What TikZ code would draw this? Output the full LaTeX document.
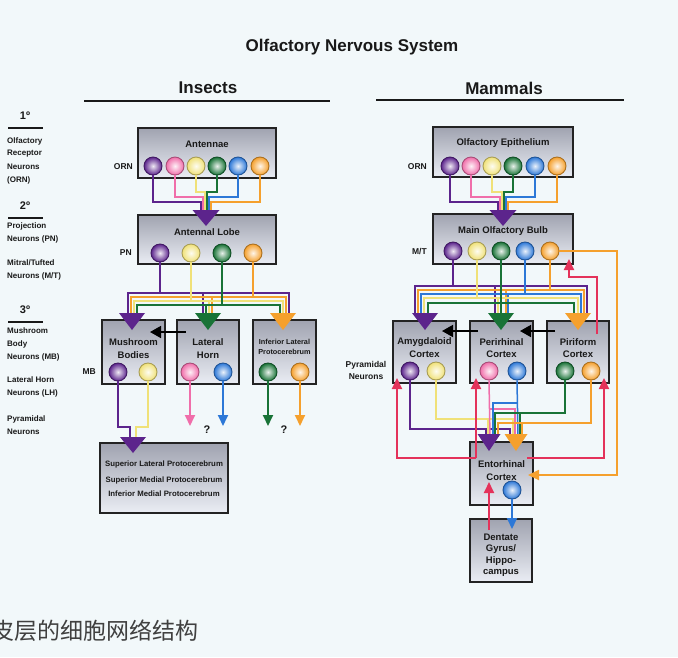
\documentclass[tikz,border=0pt]{standalone}
\usepackage{fontspec}
\setmainfont{Liberation Sans}
\newfontfamily\cjk{Noto Sans CJK SC}
\usetikzlibrary{arrows.meta}
\definecolor{cpur}{RGB}{92,36,140}
\definecolor{cpnk}{RGB}{240,110,170}
\definecolor{cyel}{RGB}{240,225,120}
\definecolor{cgrn}{RGB}{25,115,55}
\definecolor{cblu}{RGB}{45,120,215}
\definecolor{corg}{RGB}{245,160,45}
\definecolor{cred}{RGB}{228,50,90}
\definecolor{bg}{RGB}{242,248,250}
\definecolor{boxtop}{RGB}{160,163,176}
\definecolor{boxbot}{RGB}{234,237,244}
\definecolor{boxline}{RGB}{35,35,35}
\definecolor{txt}{RGB}{25,25,25}
\newcommand\mytri[6]{\coordinate (#1) at (#3,#4); \fill[#2] (#1) ++(-#5/2,0) -- ++(#5,0) -- ++(-#5/2,#6) -- cycle;}
\begin{document}
\begin{tikzpicture}[x=1pt,y=-1pt,
  box/.style={draw=boxline,line width=1.5pt,top color=boxtop,bottom color=boxbot,inner sep=0pt},
  btx/.style={font=\fontsize{9.5}{11}\selectfont\bfseries,inner sep=0pt,text=txt},
  stx/.style={font=\fontsize{7.3}{9}\selectfont\bfseries,inner sep=0pt,text=txt},
  lab/.style={font=\fontsize{8}{9}\selectfont\bfseries,anchor=west,inner sep=0pt,text=txt},
  slab/.style={font=\fontsize{8.5}{10}\selectfont\bfseries,inner sep=0pt,text=txt},
  head/.style={font=\fontsize{17}{19}\selectfont\bfseries,inner sep=0pt,text=txt},
  ord/.style={font=\fontsize{11}{12}\selectfont\bfseries,inner sep=0pt,text=txt},
  wire/.style={line width=1.8pt},
  thin/.style={line width=1.5pt},
  neu/.style={circle,inner sep=0pt,minimum size=18pt,line width=0.9pt,draw=#1!70!black,inner color=#1!10!white,outer color=#1},
  sarr/.style={line width=1.8pt,-{Triangle[width=10pt,length=11pt]}},
  barr/.style={line width=1.6pt,-{Triangle[width=12pt,length=11pt]},black}]
\useasboundingbox (0,0) rectangle (678,657);
\fill[bg] (0,0) rectangle (678,657);

% titles
\node[head] (title) at (352,47) {Olfactory Nervous System};
\node[head] (ins) at (208,88) {Insects};
\node[head] (mam) at (504,88) {Mammals};
\draw[line width=1.6pt,txt] (84,101) -- (330,101);
\draw[line width=1.6pt,txt] (376,100) -- (624,100);

% left column
\node[ord] (o1) at (25,116) {1º};
\draw[line width=1.2pt,txt] (8,128) -- (43,128);
\node[lab] (l01) at (7,141) {Olfactory};
\node[lab] (l02) at (7,154) {Receptor};
\node[lab] (l03) at (7,167) {Neurons};
\node[lab] (l04) at (7,180) {(ORN)};
\node[ord] (o2) at (25,206) {2º};
\draw[line width=1.2pt,txt] (8,218) -- (43,218);
\node[lab] (l05) at (7,226) {Projection};
\node[lab] (l06) at (7,239) {Neurons (PN)};
\node[lab] (l07) at (7,263) {Mitral/Tufted};
\node[lab] (l08) at (7,276) {Neurons (M/T)};
\node[ord] (o3) at (25,310) {3º};
\draw[line width=1.2pt,txt] (8,322) -- (43,322);
\node[lab] (l09) at (7,331) {Mushroom};
\node[lab] (l10) at (7,344) {Body};
\node[lab] (l11) at (7,357) {Neurons (MB)};
\node[lab] (l12) at (7,380) {Lateral Horn};
\node[lab] (l13) at (7,393) {Neurons (LH)};
\node[lab] (l14) at (7,419) {Pyramidal};
\node[lab] (l15) at (7,432) {Neurons};

% ---------------- Insects boxes
\node[box,minimum width=138pt,minimum height=50pt] (antb) at (207,153) {};
\node[btx] (antt) at (207,144) {Antennae};
\node[box,minimum width=138pt,minimum height=49pt] (alb) at (207,239.5) {};
\node[btx] (alt) at (207,232) {Antennal Lobe};
\node[box,minimum width=63pt,minimum height=64pt] (mbb) at (133.5,352) {};
\node[btx] (mbt1) at (133.5,342) {Mushroom};
\node[btx] (mbt2) at (133.5,355) {Bodies};
\node[box,minimum width=62pt,minimum height=64pt] (lhb) at (208,352) {};
\node[btx] (lht1) at (208,342) {Lateral};
\node[btx] (lht2) at (208,355) {Horn};
\node[box,minimum width=63pt,minimum height=64pt] (ilb) at (284.5,352) {};
\node[stx] (ilt1) at (284.5,342) {Inferior Lateral};
\node[stx] (ilt2) at (284.5,352) {Protocerebrum};
\node[box,minimum width=128pt,minimum height=70pt] (spb) at (164,478) {};
\node[stx,font=\fontsize{7.8}{9}\selectfont\bfseries] (spt1) at (164,464) {Superior Lateral Protocerebrum};
\node[stx,font=\fontsize{7.8}{9}\selectfont\bfseries] (spt2) at (164,480) {Superior Medial Protocerebrum};
\node[stx,font=\fontsize{7.8}{9}\selectfont\bfseries] (spt3) at (164,494) {Inferior Medial Protocerebrum};
\node[slab,anchor=east] (orn1) at (133,167) {ORN};
\node[slab,anchor=east] (pn) at (132,253) {PN};
\node[slab,anchor=east] (mb) at (96,372) {MB};

% ---------------- Mammals boxes
\node[box,minimum width=140pt,minimum height=50pt] (oeb) at (503,152) {};
\node[btx] (oet) at (503,143) {Olfactory Epithelium};
\node[box,minimum width=140pt,minimum height=50pt] (mob) at (503,239) {};
\node[btx] (mot) at (503,231) {Main Olfactory Bulb};
\node[box,minimum width=63pt,minimum height=62pt] (amb) at (424.5,352) {};
\node[btx] (amt1) at (424.5,342) {Amygdaloid};
\node[btx] (amt2) at (424.5,354) {Cortex};
\node[box,minimum width=63pt,minimum height=62pt] (prb) at (501.5,352) {};
\node[btx] (prt1) at (501.5,342) {Perirhinal};
\node[btx] (prt2) at (501.5,354) {Cortex};
\node[box,minimum width=62pt,minimum height=62pt] (pfb) at (578,352) {};
\node[btx] (pft1) at (578,342) {Piriform};
\node[btx] (pft2) at (578,354) {Cortex};
\node[box,minimum width=63pt,minimum height=63pt] (enb) at (501.5,473.5) {};
\node[btx] (ent1) at (501.5,464) {Entorhinal};
\node[btx] (ent2) at (501.5,477) {Cortex};
\node[box,minimum width=62pt,minimum height=63pt] (dgb) at (501,550.5) {};
\node[btx] (dgt1) at (501,537) {Dentate};
\node[btx] (dgt2) at (501,549) {Gyrus/};
\node[btx] (dgt3) at (501,561) {Hippo-};
\node[btx] (dgt4) at (501,573) {campus};
\node[slab,anchor=east] (orn2) at (427,167) {ORN};
\node[slab,anchor=east] (mt) at (427,251) {M/T};
\node[slab] (pyr1) at (366,365) {Pyramidal};
\node[slab] (pyr2) at (366,377) {Neurons};

% ---------------- neurons
\node[neu=cpur] (a1) at (153,166) {};
\node[neu=cpnk] (a2) at (175,166) {};
\node[neu=cyel] (a3) at (196,166) {};
\node[neu=cgrn] (a4) at (217,166) {};
\node[neu=cblu] (a5) at (238,166) {};
\node[neu=corg] (a6) at (260,166) {};
\node[neu=cpur] (p1) at (160,253) {};
\node[neu=cyel] (p2) at (191,253) {};
\node[neu=cgrn] (p3) at (222,253) {};
\node[neu=corg] (p4) at (253,253) {};
\node[neu=cpur] (b1) at (118,372) {};
\node[neu=cyel] (b2) at (148,372) {};
\node[neu=cpnk] (l1) at (190,372) {};
\node[neu=cblu] (l2) at (223,372) {};
\node[neu=cgrn] (i1) at (268,372) {};
\node[neu=corg] (i2) at (300,372) {};
\node[neu=cpur] (m1) at (450,166) {};
\node[neu=cpnk] (m2) at (471,166) {};
\node[neu=cyel] (m3) at (492,166) {};
\node[neu=cgrn] (m4) at (513,166) {};
\node[neu=cblu] (m5) at (535,166) {};
\node[neu=corg] (m6) at (557,166) {};
\node[neu=cpur] (n1) at (453,251) {};
\node[neu=cyel] (n2) at (477,251) {};
\node[neu=cgrn] (n3) at (501,251) {};
\node[neu=cblu] (n4) at (525,251) {};
\node[neu=corg] (n5) at (550,251) {};
\node[neu=cpur] (c1) at (410,371) {};
\node[neu=cyel] (c2) at (436,371) {};
\node[neu=cpnk] (r1) at (489,371) {};
\node[neu=cblu] (r2) at (517,371) {};
\node[neu=cgrn] (f1) at (565,371) {};
\node[neu=corg] (f2) at (591,371) {};
\node[neu=cblu] (e1) at (512,490) {};

% ---------------- insect wires
\draw[wire,cpur] (a1.south) |- (201,202) -- (201,212);
\draw[wire,cpnk] (a2.south) |- (203,197) -- (203,212);
\draw[wire,cyel] (a3.south) |- (205,192) -- (205,212);
\draw[wire,cgrn] (a4.south) |- (207,192) -- (207,212);
\draw[wire,cblu] (a5.south) |- (209,197) -- (209,212);
\draw[wire,corg] (a6.south) |- (211,202) -- (211,212);

\draw[wire,cpur] (p1.south) -- (160,293);
\draw[wire,cpur] (128,316) |- (289,293) -- (289,316);
\draw[wire,cpur] (203,293) -- (203,316);
\draw[wire,corg] (p4.south) -- (253,297);
\draw[wire,corg] (131,316) |- (286,297) -- (286,316);
\draw[wire,corg] (212,297) -- (212,316);
\draw[wire,cyel] (p2.south) -- (191,301);
\draw[wire,cyel] (134,316) |- (283,301) -- (283,316);
\draw[wire,cyel] (209,301) -- (209,316);
\draw[wire,cgrn] (p3.south) -- (222,305);
\draw[wire,cgrn] (137,316) |- (280,305) -- (280,316);
\draw[wire,cgrn] (206,305) -- (206,316);

\draw[wire,cpur] (b1.south) |- (130,427) -- (130,439);
\draw[wire,cyel] (b2.south) |- (136,427) -- (136,439);

\draw[sarr,cpnk] (l1.south) -- (190,426);
\draw[sarr,cblu] (l2.south) -- (223,426);
\draw[sarr,cgrn] (i1.south) -- (268,426);
\draw[sarr,corg] (i2.south) -- (300,426);
\node[ord] (q1) at (207,430) {?};
\node[ord] (q2) at (284,430) {?};
\draw[barr] (186,332) -- (150,332);

% ---------------- mammal wires
\draw[wire,cpur] (m1.south) |- (498,202) -- (498,212);
\draw[wire,cpnk] (m2.south) |- (500,197) -- (500,212);
\draw[wire,cyel] (m3.south) |- (502,192) -- (502,212);
\draw[wire,cgrn] (m4.south) |- (504,192) -- (504,212);
\draw[wire,cblu] (m5.south) |- (506,197) -- (506,212);
\draw[wire,corg] (m6.south) |- (508,202) -- (508,212);

\draw[wire,cpur] (n1.south) -- (453,286);
\draw[wire,cpur] (415,316) |- (587,286) -- (587,316);
\draw[wire,cpur] (495,286) -- (495,316);
\draw[wire,corg] (n5.south) -- (550,290);
\draw[wire,corg] (418,316) |- (584,290) -- (584,316);
\draw[wire,corg] (506,290) -- (506,316);
\draw[wire,cblu] (n4.south) -- (525,294);
\draw[wire,cblu] (421,316) |- (581,294) -- (581,316);
\draw[wire,cblu] (508,294) -- (508,316);
\draw[wire,cyel] (n2.south) -- (477,298);
\draw[wire,cyel] (424,316) |- (578,298) -- (578,316);
\draw[wire,cyel] (498,298) -- (498,316);
\draw[wire,cgrn] (n3.south) -- (501,316);
\draw[wire,cgrn] (428,316) |- (574,303) -- (574,316);

\draw[sarr,corg] (n5.east) -- (617,251) |- (528,475);
\draw[sarr,cred] (597,334) |- (569,277) -- (569,259);

\draw[barr] (478,331) -- (442,331);
\draw[barr] (555,331) -- (520,331);

\draw[thin,cpur] (c1.south) |- (510,429) -- (510,437);
\draw[thin,cpur] (486,429) -- (486,437);
\draw[thin,cyel] (c2.south) |- (513,419) -- (513,437);
\draw[thin,cyel] (488,419) -- (488,437);
\draw[thin,cpnk] (r1.south) -- (490,437);
\draw[thin,cpnk] (490,409) -| (515,437);
\draw[thin,cblu] (r2.south) -- (518,437);
\draw[thin,cblu] (518,403) -| (493,437);
\draw[thin,cgrn] (f1.south) |- (495,413) -- (495,437);
\draw[thin,cgrn] (520,413) -- (520,437);
\draw[thin,corg] (f2.south) |- (498,423) -- (498,437);
\draw[thin,corg] (522,423) -- (522,437);

\coordinate (eL) at (476,458);
\coordinate (eR) at (527,458);
\coordinate (dgT) at (489,530);
\draw[sarr,cred] (eL) -| (397,378);
\draw[sarr,cred] (eL) -- (476,378);
\draw[sarr,cred] (eR) -| (604,378);
\draw[sarr,cred] (dgT) -- (489,482);
\draw[sarr,cblu] (e1.south) -- (512,529);

% ---------------- triangles
\mytri{tI1}{cpur}{206}{210}{27}{16}
\mytri{tMB}{cpur}{132}{313}{26}{17}
\mytri{tLH}{cgrn}{208}{313}{26}{17}
\mytri{tIL}{corg}{283}{313}{26}{17}
\mytri{tSP}{cpur}{133}{437}{26}{16}
\mytri{tM1}{cpur}{503}{210}{27}{16}
\mytri{tAm}{cpur}{425}{313}{26}{17}
\mytri{tPr}{cgrn}{501}{313}{26}{17}
\mytri{tPf}{corg}{578}{313}{26}{17}
\mytri{tEP}{cpur}{489}{434}{23}{17}
\mytri{tEO}{corg}{516}{434}{23}{17}

% bottom caption (cut at the left edge)
\node[font=\cjk\fontsize{23}{25}\selectfont,anchor=west,inner sep=0pt,text=black!75] (cn) at (-9,631) {皮层的细胞网络结构};
\end{tikzpicture}
\end{document}
